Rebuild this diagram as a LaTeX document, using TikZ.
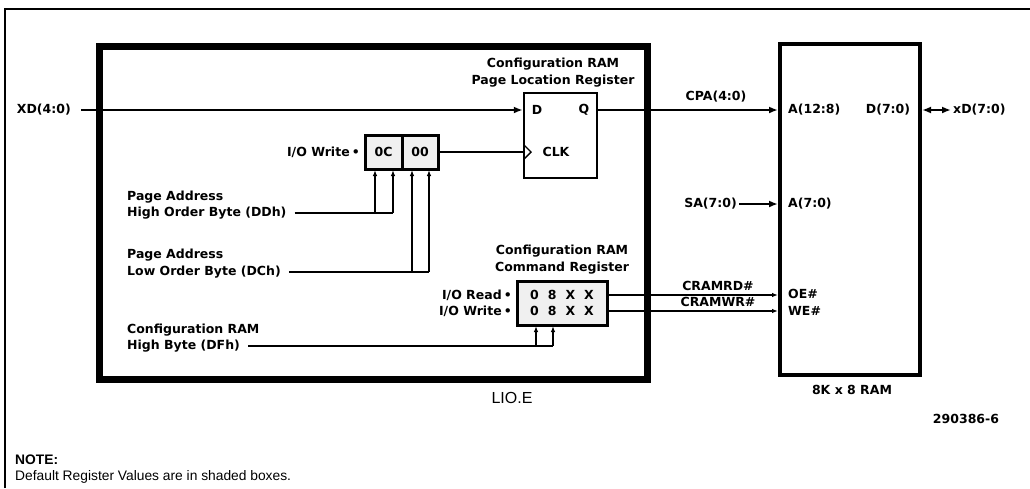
\documentclass[tikz,border=0pt]{standalone}
\usepackage{fontspec}
\setmainfont{DejaVu Sans}
\newfontfamily\notefont{Liberation Sans}
\usetikzlibrary{arrows.meta}
\begin{document}
\begin{tikzpicture}[x=1pt,y=-1pt,
  font=\bfseries\fontsize{12.5}{17}\selectfont,
  lbl/.style={inner sep=2pt},
  sig/.style={line width=1.4pt},
  bus/.style={line width=1.9pt},
  arr/.style={-{Latex[length=9pt,width=7pt]}},
  sarr/.style={-{Latex[length=6pt,width=4.5pt]}},
  regbox/.style={draw,line width=3pt,fill=gray!12,inner sep=0pt},
  ffbox/.style={draw,line width=2.5pt,inner sep=0pt},
  notestyle/.style={inner sep=0pt,anchor=west,font=\notefont\fontsize{13.8}{16}\selectfont}]
\useasboundingbox (0,0) rectangle (1030,488);
% outer frame
\draw[line width=1.5pt] (5,488) -- (5,9) -- (1030,9);
% LIO.E box
\node[draw,line width=7pt,minimum width=548pt,minimum height=333pt,inner sep=0pt] (lio) at (373.5,212.5) {};
\node[lbl,font=\notefont\fontsize{16}{18}\selectfont] (liolbl) at (512,398) {LIO.E};
% RAM
\node[draw,line width=4pt,minimum width=140pt,minimum height=331pt,inner sep=0pt] (ram) at (850,209.5) {};
\node[lbl] (ramlbl) at (852,390) {8K x 8 RAM};
\node[lbl] (fig) at (966,419) {290386-6};
% note
\node[notestyle,font=\notefont\bfseries\fontsize{13.8}{16}\selectfont] (note) at (15,460) {NOTE:};
\node[notestyle] (notetxt) at (15,477) {Default Register Values are in shaded boxes.};
% Page location register
\node[ffbox,minimum width=73pt,minimum height=85pt] (plr) at (560.5,135.5) {};
\node[lbl,align=center] (plrt) at (553,72.5) {Configuration RAM\\Page Location Register};
\node[lbl] (dl) at (537,110) {D};
\node[lbl] (ql) at (584,110) {Q};
\node[lbl] (clkl) at (556,152) {CLK};
\draw[sig] (524,145) -- (531,152) -- (524,159);
% OC / 00 registers
\node[regbox,minimum width=37pt,minimum height=34pt] (oc) at (383.5,152) {0C};
\node[regbox,minimum width=36pt,minimum height=34pt] (oo) at (420,152) {00};
\node[lbl,anchor=east] (iow1) at (362,152) {I/O Write\,•};
\coordinate (ocA) at (375,170);
\coordinate (ocB) at (393,170);
\coordinate (ooA) at (412,170);
\coordinate (ooB) at (429,170);
% command register
\node[regbox,minimum width=90pt,minimum height=44pt] (cmd) at (562,303) {};
\node[lbl,align=center] (cmdt) at (562,259.5) {Configuration RAM\\Command Register};
\node[lbl] (row1) at (562,295) {0\hspace{9pt}8\hspace{9pt}X\hspace{9pt}X};
\node[lbl] (row2) at (562,311) {0\hspace{9pt}8\hspace{9pt}X\hspace{9pt}X};
\node[lbl,anchor=east] (ior) at (514,295) {I/O Read\,•};
\node[lbl,anchor=east] (iow2) at (514,311) {I/O Write\,•};
\coordinate (cA) at (536,326);
\coordinate (cB) at (553,326);
% left labels
\node[lbl,anchor=west] (ddh1) at (125,197) {Page Address};
\node[lbl,anchor=west] (ddh2) at (125,213) {High Order Byte (DDh)};
\node[lbl,anchor=west] (dch1) at (125,255) {Page Address};
\node[lbl,anchor=west] (dch2) at (125,272) {Low Order Byte (DCh)};
\node[lbl,anchor=west] (dfh1) at (125,330) {Configuration RAM};
\node[lbl,anchor=west] (dfh2) at (125,346) {High Byte (DFh)};
\draw[sig] ([xshift=6pt]ddh2.east) -- (ddh2.east -| ocB);
\draw[sig,sarr] (ddh2.east -| ocA) -- (ocA);
\draw[sig,sarr] (ddh2.east -| ocB) -- (ocB);
\draw[sig] ([xshift=6pt]dch2.east) -- (dch2.east -| ooB);
\draw[sig,sarr] (dch2.east -| ooA) -- (ooA);
\draw[sig,sarr] (dch2.east -| ooB) -- (ooB);
\draw[sig] ([xshift=6pt]dfh2.east) -- (dfh2.east -| cB);
\draw[sig,sarr] (dfh2.east -| cA) -- (cA);
\draw[sig,sarr] (dfh2.east -| cB) -- (cB);
% XD input
\node[lbl,anchor=east] (xd) at (73,110) {XD(4:0)};
\draw[bus,arr] ([xshift=8pt]xd.east) -- (plr.west |- xd.east);
% clock
\draw[sig] (oo.east) -- (plr.west |- oo.east);
% Q to RAM
\draw[bus,arr] (plr.east |- xd.east) -- (ram.west |- xd.east);
\node[lbl] (cpa) at (716,97) {CPA(4:0)};
\node[lbl,anchor=west] (a128) at (786,110) {A(12:8)};
\node[lbl] (d70) at (888,110) {D(7:0)};
\node[lbl,anchor=west] (xdo) at (951,110) {xD(7:0)};
\draw[bus,{Latex[length=9pt,width=7pt]}-{Latex[length=9pt,width=7pt]}] (ram.east |- xdo.west) -- (xdo.west);
% SA
\node[lbl,anchor=east] (sa) at (739,204) {SA(7:0)};
\draw[bus,arr] (sa.east) -- (ram.west |- sa.east);
\node[lbl,anchor=west] (a70) at (786,204) {A(7:0)};
% CRAM lines
\draw[sig,sarr] (cmd.east |- row1.east) -- (ram.west |- row1.east);
\draw[sig,sarr] (cmd.east |- row2.east) -- (ram.west |- row2.east);
\node[lbl] (crd) at (718,286) {CRAMRD\#};
\node[lbl] (cwr) at (718,302) {CRAMWR\#};
\node[lbl,anchor=west] (oe) at (786,294) {OE\#};
\node[lbl,anchor=west] (we) at (786,311) {WE\#};
\end{tikzpicture}
\end{document}
